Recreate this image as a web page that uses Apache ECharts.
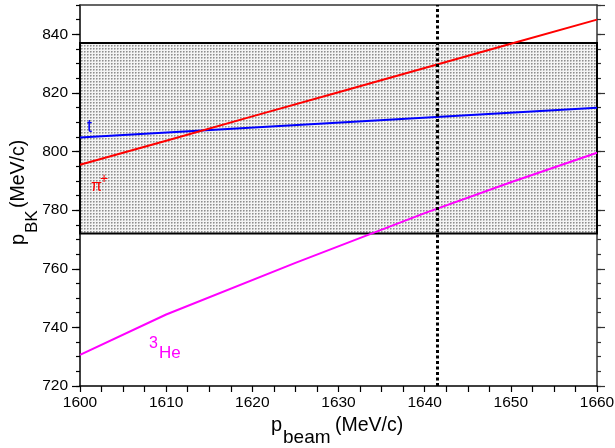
<!DOCTYPE html>
<html>
<head>
<meta charset="utf-8">
<script src="https://cdn.jsdelivr.net/npm/echarts@6/dist/echarts.min.js"></script>
<style>
html,body{margin:0;padding:0;background:#fff;}
#c{width:615px;height:448px;}
</style>
</head>
<body>
<div id="c"></div>
<script>
// ---- data ----
const piX   = [1600, 1610, 1620, 1630, 1640, 1650, 1660];
const piY   = [795.5, 803.7, 812.0, 820.2, 828.5, 836.8, 845.0];
const tX    = [1600, 1660];
const tY    = [804.8, 814.9];
const heX   = [1600, 1610, 1625, 1640, 1650, 1660];
const heY   = [730.6, 744.4, 762.0, 779.0, 789.5, 799.6];
const boxLow = 772;
const boxHigh = 837;
const beamMark = 1641.5;
const xMin = 1600, xMax = 1660, xStep = 10;
const yMin = 720, yMax = 850, yStep = 20, yMinor = 5;

function pairs(xs, ys){ return xs.map((x,i)=>[x, ys[i]]); }

// stipple pattern for the shaded band
const pc = document.createElement('canvas');
pc.width = 3; pc.height = 3;
const pctx = pc.getContext('2d');
pctx.fillStyle = '#f4f4f4'; pctx.fillRect(0,0,3,3);
pctx.fillStyle = '#8e8e8e'; pctx.fillRect(0,0,1,1);
pctx.fillStyle = '#b8b8b8'; pctx.fillRect(1,0,1,1); pctx.fillRect(0,1,1,1);
pctx.fillStyle = '#dcdcdc'; pctx.fillRect(1,1,1,1);

const FONT = '"Liberation Sans", Arial, Helvetica, sans-serif';
const f = (px) => px + 'px ' + FONT;
const chart = echarts.init(document.getElementById('c'), null, {renderer:'canvas'});

function txt(x, y, s, size, color){
  return {type:'text', z:100, x:x, y:y,
    style:{text:s, fill:color, font:f(size), align:'left', verticalAlign:'middle'}};
}

const yBase = {type:'value', min:yMin, max:yMax, splitLine:{show:false}, axisPointer:{show:false}};
chart.setOption({
  animation:false,
  backgroundColor:'#fff',
  grid:{left:80, right:18, top:5, bottom:62, containLabel:false, outerBoundsMode:'none'},
  xAxis:[
    {type:'value', min:xMin, max:xMax, interval:xStep, position:'bottom',
     axisLine:{show:true, lineStyle:{color:'#000', width:1.5}},
     axisTick:{show:true, length:6, lineStyle:{color:'#000', width:1.2}},
     minorTick:{show:true, splitNumber:4, length:6, lineStyle:{color:'#000', width:1.2}},
     axisLabel:{fontSize:15.5, color:'#000', fontFamily:FONT, margin:9, formatter:(v)=>String(v)},
     splitLine:{show:false}},
    {type:'value', min:xMin, max:xMax, position:'top',
     axisLine:{show:true, lineStyle:{color:'#333', width:1.5}},
     axisTick:{show:false}, axisLabel:{show:false}, splitLine:{show:false}}
  ],
  yAxis:[
    Object.assign({}, yBase, {position:'left', interval:yStep,
     axisLine:{show:true, lineStyle:{color:'#000', width:1.5}},
     axisTick:{show:true, length:8, lineStyle:{color:'#000', width:1.2}},
     axisLabel:{fontSize:15.5, color:'#000', fontFamily:FONT, margin:12, showMaxLabel:false, formatter:(v)=>String(v)}}),
    Object.assign({}, yBase, {position:'left', interval:yMinor,
     axisLine:{show:false},
     axisTick:{show:true, length:4, lineStyle:{color:'#000', width:1.2}},
     axisLabel:{show:false}}),
    Object.assign({}, yBase, {position:'right', interval:yStep,
     axisLine:{show:true, lineStyle:{color:'#333', width:1.5}},
     axisTick:{show:true, length:8, lineStyle:{color:'#333', width:1.2}},
     axisLabel:{show:false}}),
    Object.assign({}, yBase, {position:'right', interval:yMinor,
     axisLine:{show:false},
     axisTick:{show:true, length:4, lineStyle:{color:'#333', width:1.2}},
     axisLabel:{show:false}})
  ],
  series:[
    {type:'line', name:'band', data:[], xAxisIndex:0, yAxisIndex:0, silent:true, z:1,
     markArea:{silent:true,
       itemStyle:{color:{image:pc, repeat:'repeat'}, borderColor:'#000', borderWidth:2},
       data:[[{yAxis:boxLow}, {yAxis:boxHigh}]]}},
    {type:'line', name:'3He', data:pairs(heX, heY), showSymbol:false, z:3,
     lineStyle:{color:'#ff00ff', width:2}, itemStyle:{color:'#ff00ff'}},
    {type:'line', name:'t', data:pairs(tX, tY), showSymbol:false, z:3,
     lineStyle:{color:'#0000ff', width:2}, itemStyle:{color:'#0000ff'}},
    {type:'line', name:'pi+', data:pairs(piX, piY), showSymbol:false, z:3,
     lineStyle:{color:'#ff0000', width:2}, itemStyle:{color:'#ff0000'},
     markLine:{silent:true, symbol:['none','none'], label:{show:false},
       lineStyle:{color:'#000', width:3, type:[3,2.5]},
       data:[{xAxis:beamMark}]}}
  ],
  graphic:[
    txt(87, 127, 't', 18, '#0000ff'),
    txt(91, 187, 'π', 16, '#ff0000'),
    txt(100, 179, '+', 14, '#ff0000'),
    txt(149, 344, '3', 16, '#ff00ff'),
    txt(159, 353.7, 'He', 17, '#ff00ff'),
    txt(271, 425.8, 'p', 20, '#000'),
    txt(283, 437.6, 'beam', 19, '#000'),
    txt(335, 426, '(MeV/c)', 19.5, '#000'),
    {type:'group', z:100, x:0, y:0, rotation:Math.PI/2, children:[
      txt(-245, 18.8, 'p', 20, '#000'),
      txt(-233, 32.7, 'BK', 17, '#000'),
      txt(-208, 19, '(MeV/c)', 19.5, '#000')
    ]}
  ]
});
</script>
</body>
</html>
